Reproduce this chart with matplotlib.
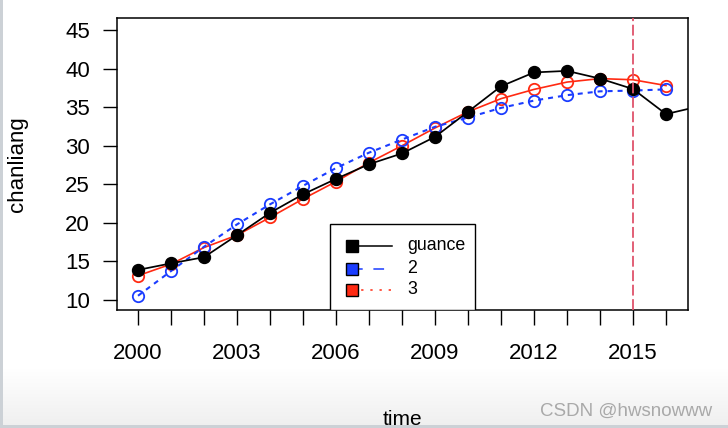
import numpy as np
import matplotlib.pyplot as plt
from matplotlib.lines import Line2D
from matplotlib.patches import Rectangle

plt.rcParams['font.family'] = ['Liberation Sans', 'DejaVu Sans']

# ----------------------------------------------------------------------
# donnees
# ----------------------------------------------------------------------
annees_obs = list(range(2000, 2018))
guance = [13.9, 14.75, 15.55, 18.4, 21.3, 23.7, 25.7, 27.6, 29.0, 31.15,
          34.4, 37.7, 39.5, 39.7, 38.7, 37.35, 34.1, 35.1]

annees_mod = list(range(2000, 2017))
modele2 = [10.55, 13.75, 16.9, 19.8, 22.4, 24.8, 27.1, 29.1, 30.8, 32.45,
           33.65, 34.9, 35.85, 36.55, 37.05, 37.15, 37.3]
modele3 = [13.15, 14.65, 16.8, 18.4, 20.7, 23.1, 25.35, 27.8, 30.0, 32.3,
           34.4, 36.1, 37.3, 38.25, 38.7, 38.55, 37.8]

annee_coupure = 2015
ticks_x = [2000, 2003, 2006, 2009, 2012, 2015]
ticks_y = [10, 15, 20, 25, 30, 35, 40, 45]
noms_legende = ["guance", "2", "3"]

bleu = "#1a3cff"
rouge = "#ff2a12"

W, H = 728, 428
fig = plt.figure(figsize=(W / 100, H / 100), dpi=100)
fig.patch.set_facecolor("white")

# fond : leger degrade gris en bas + bordure (capture d'ecran)
fond = np.ones((H, W, 3))
for i in range(368, H):
    fond[i, :, :] = 1.0 - 0.065 * (i - 368) / (H - 368)
fond[H - 3:, :, :] = [0.80, 0.82, 0.84]
fond[:, :3, :] = [0.80, 0.82, 0.84]
ax_fond = fig.add_axes([0, 0, 1, 1], zorder=-10)
ax_fond.imshow(fond, aspect="auto", interpolation="nearest")
ax_fond.axis("off")


def fx(px):
    return px / W


def fy(py):
    return 1 - py / H


ax = fig.add_axes([fx(117), fy(310), fx(688) - fx(117), fy(18) - fy(310)])
ax.set_facecolor("white")

ax.plot(annees_mod, modele3, color=rouge, lw=1.2, marker="o", ms=8.2,
        mfc="none", mec=rouge, mew=1.3, zorder=3)
ax.plot(annees_mod, modele2, color=bleu, lw=1.5, ls=(0, (2.4, 2.4)), marker="o",
        ms=8.2, mfc="none", mec=bleu, mew=1.3, zorder=4)
ax.plot(annees_obs, guance, color="black", lw=1.25, marker="o", ms=8.6,
        mfc="black", mec="black", zorder=5)
ax.axvline(annee_coupure, color="#df536b", lw=1.3, ls=(0, (6, 2)), zorder=6)

ax.set_xlim(2000 - 21 / 33, 2015 + 55 / 33)
ax.set_ylim(10 - 10 / 7.714, 45 + 12 / 7.714)
ax.set_xticks(ticks_x)
ax.set_xticks(range(2000, 2017), minor=True)
ax.set_yticks(ticks_y)
ax.tick_params(axis="x", which="both", direction="out", length=10.5, width=1.0,
               labelsize=16, pad=13.5)
ax.tick_params(axis="y", direction="out", length=10, width=1.0,
               labelsize=16, pad=9.5)
for s in ax.spines.values():
    s.set_linewidth(1.1)

ax.set_xlabel("time", fontsize=15)
ax.xaxis.set_label_coords(0.5, (310 - 410) / 292)
ax.set_ylabel("chanliang", fontsize=16)
ax.yaxis.set_label_coords((28 - 117) / 571, 0.5)

# legende faite a la main (boite collee en bas du cadre, comme dans R)
ax.add_patch(Rectangle((fx(330), fy(310)), fx(475) - fx(330), fy(224) - fy(310),
                       transform=fig.transFigure, facecolor="white",
                       edgecolor="black", lw=1.0, zorder=7))
styles = [("black", "black", "-"), (bleu, bleu, (0, (7, 7))), (rouge, rouge, (0, (1.5, 4.5)))]
lignes_y = [246, 268.5, 290]
for nom, (c_fill, c_line, ls), py in zip(noms_legende, styles, lignes_y):
    fig.add_artist(Line2D([fx(352), fx(392)], [fy(py), fy(py)], color=c_line,
                          lw=1.1, ls=ls, zorder=8))
    fig.add_artist(Line2D([fx(352)], [fy(py)], marker="s", ms=9, mfc=c_fill,
                          mec="black", mew=1.0, zorder=9))
    fig.text(fx(407), fy(py), nom, fontsize=12.8, ha="left", va="center", zorder=9)

fig.text(fx(712), fy(411), "CSDN @hwsnowww", fontsize=13.5, color="#a9a9a9",
         ha="right", va="center")

fig.savefig("out.png", dpi=100)
